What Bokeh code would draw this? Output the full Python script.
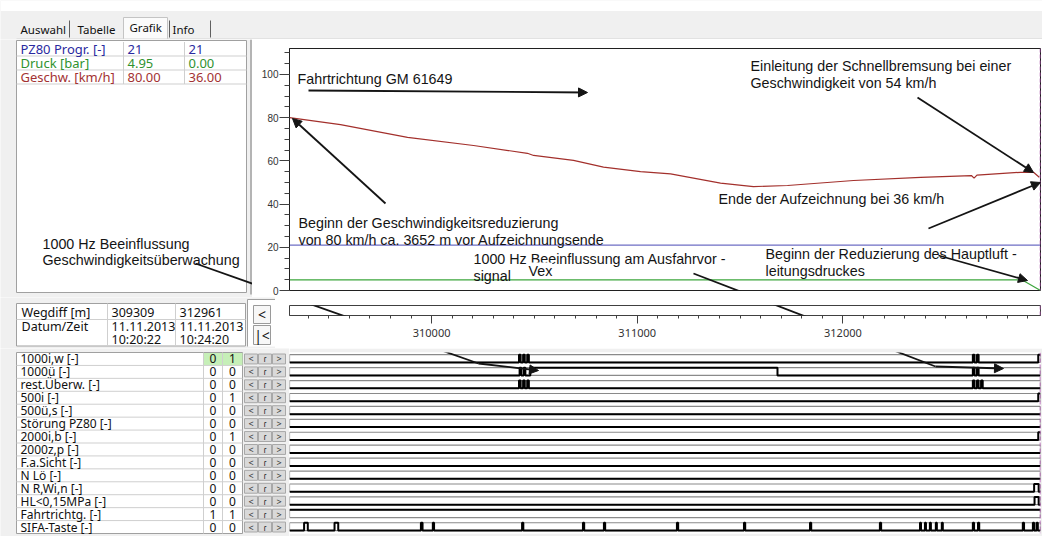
from bokeh.plotting import figure
from bokeh.layouts import column, row
from bokeh.models import (Range1d, Span, Label, Arrow, NormalHead,
                          SingleIntervalTicker, NumeralTickFormatter)
from bokeh.embed import file_html
from bokeh.resources import INLINE
from bokeh.core.properties import value

# ---------------- data ----------------
x_start = 309309          # Wegdiff at left cursor [m]
x_end = 312961            # Wegdiff at right cursor [m]

dist_m = [309309, 309557, 309883, 310204, 310466, 310496, 310690, 310836, 311016,
          311162, 311405, 311565, 311731, 312052, 312378, 312625, 312638, 312652,
          312864, 312927, 312955]
speed_kmh = [80.0, 76.8, 70.9, 67.1, 63.5, 62.5, 60.2, 57.1, 55.0,
             54.0, 49.7, 48.1, 48.6, 50.9, 52.4, 53.2, 52.0, 53.4,
             54.7, 54.7, 52.4]

druck_dist_m = [309309, 312870, 312961]
druck_bar = [4.95, 4.95, 0.00]

pz80_dist_m = [309309, 312961]
pz80_prog = [21, 21]

tab_names = ["Auswahl", "Tabelle", "Grafik", "Info"]

chan_names = ["PZ80 Progr. [-]", "Druck [bar]", "Geschw. [km/h]"]
chan_first = ["21", "4.95", "80.00"]
chan_last = ["21", "0.00", "36.00"]

datum_first = ["11.11.2013", "10:20:22"]
datum_last = ["11.11.2013", "10:24:20"]

sig_names = ["1000i,w [-]", "1000ü [-]", "rest.Überw. [-]", "500i [-]", "500ü,s [-]",
             "Störung PZ80 [-]", "2000i,b [-]", "2000z,p [-]", "F.a.Sicht [-]", "N Lö [-]",
             "N R,Wi,n [-]", "HL<0,15MPa [-]", "Fahrtrichtg. [-]", "SIFA-Taste [-]"]
sig_first = [0, 0, 0, 0, 0, 0, 0, 0, 0, 0, 0, 0, 1, 0]
sig_last = [1, 0, 0, 1, 0, 0, 1, 0, 0, 0, 0, 0, 1, 0]

# intervals [m] in which each binary signal is 1
on_1000iw = [(310425, 310433), (310445, 310453), (310465, 310473),
             (312632, 312640), (312652, 312660), (312950, 312961)]
on_1000u = [(310428, 310436), (310448, 310456), (310480, 311682),
            (312632, 312640), (312652, 312660)]
on_restu = [(310425, 310433), (310445, 310453), (310465, 310473),
            (312632, 312640), (312652, 312660), (312672, 312680)]
on_500i = [(312950, 312961)]
on_500us = []
on_stoer = []
on_2000ib = [(312950, 312961)]
on_2000zp = []
on_fasicht = []
on_nlo = []
on_nrwin = [(312930, 312952)]
on_hl = [(312932, 312952)]
on_fahrtr = [(309309, 312961)]
on_sifa = [(309380, 309398), (309528, 309546), (309948, 309956), (310006, 310012),
           (310440, 310446), (310736, 310742), (310838, 310844), (311193, 311199),
           (311519, 311525), (311840, 311846), (312180, 312186), (312375, 312380),
           (312399, 312404), (312423, 312428), (312452, 312457), (312481, 312486),
           (312632, 312638), (312657, 312663), (312875, 312881), (312924, 312930),
           (312942, 312948)]
sig_on = [on_1000iw, on_1000u, on_restu, on_500i, on_500us, on_stoer, on_2000ib,
          on_2000zp, on_fasicht, on_nlo, on_nrwin, on_hl, on_fahrtr, on_sifa]

# ---------------- style ----------------
UI_FONT = "Noto Sans"
ANN_FONT = "Liberation Sans"
ANN_SIZE = "14.3px"
BG = "#f0f0f0"
GRID = "#cfcfcf"
BORDER = "#a0a0a0"
INK = "#141414"
C_SPEED = "#a3302c"
C_PZ80 = "#6e6ec4"
C_DRUCK = "#3da63d"
chan_colors = ["#2a2aa0", "#2f922f", "#a33232"]
CURSOR = "#a64ca6"

# layout geometry (page pixels)
W = 1042
H = 536
FR_L, FR_R = 289, 1040
MAIN_TOP, MAIN_BOT = 48, 290
ROW_M_BOT = 297          # bottom of the chart row
RULER_TOP = 305          # top of the ruler bar
Y_MAX = 112
SIG_TOP, SIG_BOT = 352, 533
n_sig = len(sig_names)

xr = Range1d(x_start, x_end)


def chrome(x0, x1, y0, y1):
    f = figure(width=x1 - x0, height=y1 - y0,
               x_range=Range1d(x0, x1), y_range=Range1d(y1, y0),
               toolbar_location=None, output_backend="svg", frame_align=False,
               x_axis_location=None, y_axis_location=None, min_border=0)
    f.outline_line_color = None
    f.background_fill_color = BG
    f.border_fill_color = BG
    f.xgrid.visible = False
    f.ygrid.visible = False
    return f


def put_text(f, xs, ys, texts, size="11px", color="#111111", font=UI_FONT, align="left"):
    f.text(x=xs, y=ys, text=texts, text_font=value(font), text_font_size=size,
           text_color=color, text_align=align, text_baseline="middle")


# ---------------- tab bar ----------------
tabs = chrome(0, W, 0, 39)
tabs.quad(left=0, right=W, top=0, bottom=10.5, fill_color="white", line_color=None)
tabs.quad(left=123, right=167, top=17, bottom=39, fill_color="#fbfbfb", line_color="#c4c4c4")
tabs.segment(x0=[16], y0=[38.5], x1=[W], y1=[38.5], line_color="#d4d4d4")
put_text(tabs, [20, 77, 129, 172], [29, 29, 27, 29], tab_names, size="11.5px")
tabs.segment(x0=[69, 169, 210], y0=[20] * 3, x1=[69, 169, 210], y1=[37] * 3,
             line_color="#606060")

# ---------------- info table (top left) ----------------
info = chrome(0, 252, 39, ROW_M_BOT)
info.quad(left=16, right=246, top=40, bottom=292, fill_color="white", line_color=BORDER)
info.segment(x0=[250.5], y0=[39], x1=[250.5], y1=[294], line_color=BORDER, line_width=1.5)
rt, rh = 41.5, 14
lines_y = [rt + rh * (k + 1) for k in range(3)]
info.segment(x0=[16] * 3, y0=lines_y, x1=[246] * 3, y1=lines_y, line_color=GRID)
info.segment(x0=[123, 184], y0=[rt] * 2, x1=[123, 184], y1=[rt + 3 * rh] * 2, line_color=GRID)
cy = [rt + rh * (k + 0.5) for k in range(3)]
put_text(info, [20] * 3, cy, chan_names, color=chan_colors, size="13px")
put_text(info, [127] * 3, cy, chan_first, color=chan_colors, size="13px")
put_text(info, [188] * 3, cy, chan_last, color=chan_colors, size="13px")
put_text(info, [42, 42], [243, 259], ["1000 Hz Beeinflussung", "Geschwindigkeitsüberwachung"],
         size=ANN_SIZE, font=ANN_FONT, color=INK)

# ---------------- main chart ----------------
main = figure(width=W - 252, height=ROW_M_BOT - 39, x_range=xr, y_range=Range1d(0, Y_MAX),
              toolbar_location=None, output_backend="svg", x_axis_location=None,
              frame_align=False,
              min_border_left=FR_L - 252, min_border_right=W - FR_R,
              min_border_top=MAIN_TOP - 39, min_border_bottom=ROW_M_BOT - MAIN_BOT)
main.background_fill_color = "white"
main.border_fill_color = "white"
main.outline_line_color = "#202020"
main.grid.visible = False
yax = main.yaxis[0]
yax.ticker = SingleIntervalTicker(interval=20, num_minor_ticks=4)
yax.major_tick_out = 10
yax.major_tick_in = 0
yax.minor_tick_out = 5
yax.minor_tick_in = 0
yax.axis_line_color = "#202020"
yax.major_tick_line_color = "#404040"
yax.minor_tick_line_color = "#404040"
yax.major_label_text_font = ANN_FONT
yax.major_label_text_font_size = "10px"
yax.major_label_text_color = "#333333"
yax.major_label_standoff = 1

main.line(pz80_dist_m, pz80_prog, line_color=C_PZ80, line_width=1.2)
main.line(druck_dist_m, druck_bar, line_color=C_DRUCK, line_width=1.2)
main.line(dist_m, speed_kmh, line_color=C_SPEED, line_width=1.2)
main.add_layout(Span(location=x_end, dimension="height", line_color=CURSOR,
                     line_dash="4 2", line_width=1.5))

# ---------------- Wegdiff table + ruler ----------------
weg = chrome(0, 275, ROW_M_BOT, 348)
weg.quad(left=247, right=275, top=299, bottom=346, fill_color="white", line_color=None)
weg.segment(x0=[247, 247], y0=[299, 299], x1=[275, 247], y1=[299, 346], line_color=BORDER)
weg.quad(left=16, right=245, top=303, bottom=345.5, fill_color="white", line_color=BORDER)
weg.segment(x0=[16], y0=[319], x1=[245], y1=[319], line_color=GRID)
weg.segment(x0=[107, 175], y0=[303, 303], x1=[107, 175], y1=[345.5, 345.5], line_color=GRID)
put_text(weg, [21, 111, 179], [311.5] * 3, ["Wegdiff [m]", str(x_start), str(x_end)], size="12.5px")
put_text(weg, [21, 111, 179], [326] * 3, ["Datum/Zeit", datum_first[0], datum_last[0]], size="12.5px")
put_text(weg, [111, 179], [338.5, 338.5], [datum_first[1], datum_last[1]], size="12.5px")
weg.quad(left=[253, 253], right=[270, 270], top=[305, 325], bottom=[323, 344],
         fill_color="#f7f7f7", line_color="#9a9a9a")
put_text(weg, [261.5, 261.5], [313.5, 334.5], ["<", "|<"], size="14px", align="center")

ruler = figure(width=W - 275, height=348 - ROW_M_BOT, x_range=xr, y_range=Range1d(0, 1),
               toolbar_location=None, output_backend="svg", y_axis_location=None,
               frame_align=False,
               min_border_left=FR_L - 275, min_border_right=W - FR_R,
               min_border_top=RULER_TOP - ROW_M_BOT, min_border_bottom=33)
ruler.background_fill_color = "white"
ruler.border_fill_color = "white"
ruler.outline_line_color = "#404040"
ruler.grid.visible = False
xax = ruler.xaxis[0]
xax.ticker = SingleIntervalTicker(interval=1000, num_minor_ticks=10)
xax.formatter = NumeralTickFormatter(format="0")
xax.major_tick_out = 8
xax.major_tick_in = 0
xax.minor_tick_out = 3
xax.minor_tick_in = 0
xax.axis_line_color = "#404040"
xax.major_tick_line_color = "#404040"
xax.minor_tick_line_color = "#404040"
xax.major_label_text_font = UI_FONT
xax.major_label_text_font_size = "11px"
xax.major_label_text_color = "#333333"
xax.major_label_standoff = 5
ruler.add_layout(Span(location=x_end, dimension="height", line_color=CURSOR,
                      line_dash="4 2", line_width=1.5))

# ---------------- signal table ----------------
st = chrome(0, FR_L, 348, H)
srh = (SIG_BOT - SIG_TOP) / n_sig
centers = [SIG_TOP + srh * (i + 0.5) for i in range(n_sig)]
st.quad(left=16, right=242, top=SIG_TOP, bottom=SIG_BOT, fill_color="white", line_color=BORDER)
st.quad(left=203, right=242, top=SIG_TOP + 0.5, bottom=SIG_TOP + srh, fill_color="#c6efb8",
        line_color=None)
sep = [SIG_TOP + srh * k for k in range(1, n_sig)]
st.segment(x0=[16] * len(sep), y0=sep, x1=[242] * len(sep), y1=sep, line_color=GRID)
st.segment(x0=[203, 222], y0=[SIG_TOP] * 2, x1=[203, 222], y1=[SIG_BOT] * 2, line_color=GRID)
put_text(st, [20] * n_sig, centers, sig_names, size="12px")
put_text(st, [212.5] * n_sig, centers, [str(v) for v in sig_first], size="12px", align="center")
put_text(st, [232] * n_sig, centers, [str(v) for v in sig_last], size="12px", align="center")
for lx, g in zip([244, 258, 272], ["<", "ɾ", ">"]):
    st.quad(left=[lx] * n_sig, right=[lx + 13] * n_sig,
            top=[SIG_TOP + srh * i + 1.5 for i in range(n_sig)],
            bottom=[SIG_TOP + srh * (i + 1) - 1.5 for i in range(n_sig)],
            fill_color="#d9d9d9", line_color="#a8a8a8")
    put_text(st, [lx + 6.5] * n_sig, centers, [g] * n_sig, size="9px", align="center",
             color="#333333")

# ---------------- signal traces ----------------
sig = figure(width=W - FR_L, height=H - 348, x_range=xr,
             y_range=Range1d(n_sig - 0.5, -0.5),
             toolbar_location=None, output_backend="svg", frame_align=False,
             x_axis_location=None, y_axis_location=None,
             min_border_left=0, min_border_right=W - FR_R, min_border_top=SIG_TOP - 348,
             min_border_bottom=H - SIG_BOT)
sig.background_fill_color = "white"
sig.border_fill_color = BG
sig.outline_line_color = None
sig.xgrid.visible = False
sig.ygrid.visible = False

LO, HI = 0.27, -0.33
sig.quad(left=[x_start] * n_sig, right=[x_end] * n_sig,
         top=[i + HI for i in range(n_sig)], bottom=[i + LO for i in range(n_sig)],
         fill_color=None, line_color="#8a8a8a", line_width=1.2)


def trace(intervals, i):
    lo, hi = i + LO, i + HI
    xs, ys = [x_start], [lo]
    for a, b in intervals:
        a, b = max(a, x_start), min(b, x_end)
        if a > x_start:
            xs += [a, a]
            ys += [lo, hi]
        else:
            ys[0] = hi
        if b < x_end:
            xs += [b, b]
            ys += [hi, lo]
        else:
            xs.append(b)
            ys.append(hi)
    if xs[-1] < x_end:
        xs.append(x_end)
        ys.append(ys[-1])
    return xs, ys


tr = [trace(iv, i) for i, iv in enumerate(sig_on)]
sig.multi_line(xs=[t[0] for t in tr], ys=[t[1] for t in tr], line_color="black", line_width=2.0)
sig.add_layout(Span(location=x_end, dimension="height", line_color=CURSOR,
                    line_dash="4 2", line_width=1.5))


# ---------------- annotations (positions in page pixels, mapped to each panel) ----------------
def m_of(px):
    return x_start + (px - FR_L) * (x_end - x_start) / (FR_R - FR_L)


def main_y(py):
    return (MAIN_BOT - py) * Y_MAX / (MAIN_BOT - MAIN_TOP)


def ruler_y(py):
    return (RULER_TOP + 10 - py) / 10.0


def sig_y(py):
    return -0.5 + (py - SIG_TOP) * n_sig / (SIG_BOT - SIG_TOP)


panels = [
    (info, (0, 252, 39, ROW_M_BOT), lambda px: px, lambda py: py),
    (main, (252, W, 39, ROW_M_BOT), m_of, main_y),
    (ruler, (275, W, ROW_M_BOT, 348), m_of, ruler_y),
    (sig, (FR_L, W, 348, H), m_of, sig_y),
]


def clip_seg(p, q, box):
    x0, x1, y0, y1 = box
    t0, t1 = 0.0, 1.0
    dx, dy = q[0] - p[0], q[1] - p[1]
    for pp, qq in ((-dx, p[0] - x0), (dx, x1 - p[0]), (-dy, p[1] - y0), (dy, y1 - p[1])):
        if pp == 0:
            if qq < 0:
                return None
        else:
            r = qq / pp
            if pp < 0:
                t0 = max(t0, r)
            else:
                t1 = min(t1, r)
    if t0 >= t1:
        return None
    return (p[0] + t0 * dx, p[1] + t0 * dy), (p[0] + t1 * dx, p[1] + t1 * dy), t1 >= 1.0


def draw_path(path):
    nseg = len(path) - 1
    for k in range(nseg):
        p, q = path[k], path[k + 1]
        for f, box, fx, fy in panels:
            c = clip_seg(p, q, box)
            if c is None:
                continue
            a, b, reaches = c
            head = NormalHead(size=9, fill_color=INK, line_color=INK) if (k == nseg - 1 and reaches) else None
            f.add_layout(Arrow(end=head, x_start=fx(a[0]), y_start=fy(a[1]),
                               x_end=fx(b[0]), y_end=fy(b[1]),
                               line_color=INK, line_width=1.8))


arrow_paths = [
    [(195, 263), (478, 363), (538, 370)],
    [(693, 273), (935, 366), (1003, 368)],
    [(308, 90), (587, 92)],
    [(385, 203), (292, 118)],
    [(917, 97), (1033, 172)],
    [(928, 228), (1040, 182)],
    [(938, 255), (1027, 280)],
]
for pth in arrow_paths:
    draw_path(pth)

notes = [
    ("Fahrtrichtung GM 61649", 297, 78),
    ("Beginn der Geschwindigkeitsreduzierung", 298, 222),
    ("von 80 km/h ca. 3652 m vor Aufzeichnungsende", 298, 239),
    ("Einleitung der Schnellbremsung bei einer", 750, 65),
    ("Geschwindigkeit von 54 km/h", 750, 82),
    ("Ende der Aufzeichnung bei 36 km/h", 718, 198),
    ("1000 Hz Beeinflussung am Ausfahrvor -", 473, 258),
    ("signal", 473, 275),
    ("Beginn der Reduzierung des Hauptluft -", 765, 253),
    ("leitungsdruckes", 765, 270),
]
for t, px, py in notes:
    main.add_layout(Label(x=m_of(px), y=main_y(py), text=t, text_font=ANN_FONT,
                          text_font_size=ANN_SIZE, text_color=INK, text_baseline="middle"))
main.add_layout(Label(x=m_of(528), y=main_y(270), text="Vex", text_font=ANN_FONT,
                      text_font_size=ANN_SIZE, text_color=INK, text_baseline="middle",
                      background_fill_color="white", background_fill_alpha=1.0))

page = column(tabs, row(info, main), row(weg, ruler), row(st, sig))
html = file_html(page, INLINE, title="Grafik")
open("out.html", "w", encoding="utf-8").write(html)
